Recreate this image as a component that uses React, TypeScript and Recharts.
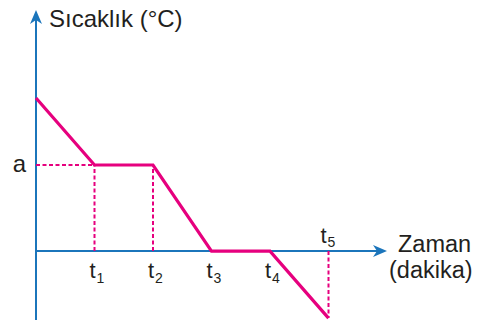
import { LineChart, Line, XAxis, YAxis, ReferenceLine, ReferenceDot } from 'recharts'

const times = [0, 1, 2, 3, 4, 5]
const temps = [80, 45, 45, 0, 0, -35]
const plateau = 45
const tickSubs = ['1', '2', '3', '4', '5']
const yTitle = 'Sıcaklık (°C)'
const xTitle = ['Zaman', '(dakika)']

const PINK = '#e6007e'
const BLUE = '#1b75bb'
const INK = '#231f20'
const FONT = '"Liberation Sans", Arial, sans-serif'
const DASH = '4 2.5'

const data = times.map((t, i) => ({ t, temp: temps[i] }))

function ArrowAxis(props: any) {
  const { x1, y1, x2, y2 } = props
  const dx = x2 - x1
  const dy = y2 - y1
  const len = Math.sqrt(dx * dx + dy * dy) || 1
  const ux = dx / len
  const uy = dy / len
  const px = -uy
  const py = ux
  const head = 14
  const half = 6
  const bx = x2 - ux * head
  const by = y2 - uy * head
  const nx = x2 - ux * (head - 4)
  const ny = y2 - uy * (head - 4)
  const pts = [
    [x2, y2],
    [bx + px * half, by + py * half],
    [nx, ny],
    [bx - px * half, by - py * half],
  ]
    .map((p) => p.join(','))
    .join(' ')
  return (
    <g>
      <line x1={x1} y1={y1} x2={nx} y2={ny} stroke={BLUE} strokeWidth={2} />
      <polygon points={pts} fill={BLUE} />
    </g>
  )
}

function TLabel({ cx, cy, sub, above }: { cx: number; cy: number; sub: string; above?: boolean }) {
  const tx = above ? cx - 8 : cx - 5
  const ty = above ? cy - 8.5 : cy + 27
  return (
    <g fontFamily={FONT} fill={INK}>
      <text x={tx} y={ty} fontSize={22}>t</text>
      <text x={tx + 7} y={ty + 4.5} fontSize={14}>{sub}</text>
    </g>
  )
}

export default function App() {
  const last = times[times.length - 1]
  return (
    <div style={{ position: 'absolute', left: 0, top: 0, background: '#fff' }}>
      <LineChart width={491} height={322} data={data} margin={{ top: 10, right: 104, bottom: 2, left: 36 }}>
        <XAxis type="number" dataKey="t" domain={[0, 6]} hide />
        <YAxis type="number" domain={[-36, 126]} hide />

        <ReferenceLine segment={[{ x: 0, y: -36 }, { x: 0, y: 126 }]} shape={ArrowAxis} />
        <ReferenceLine segment={[{ x: 0, y: 0 }, { x: 6, y: 0 }]} shape={ArrowAxis} />

        <ReferenceLine
          segment={[{ x: 0, y: plateau }, { x: 1, y: plateau }]}
          stroke={PINK}
          strokeWidth={2}
          strokeDasharray={DASH}
        />
        {[1, 2].map((t) => (
          <ReferenceLine
            key={t}
            segment={[{ x: t, y: 0 }, { x: t, y: plateau }]}
            stroke={PINK}
            strokeWidth={2}
            strokeDasharray={DASH}
          />
        ))}
        <ReferenceLine
          segment={[{ x: last, y: 0 }, { x: last, y: temps[temps.length - 1] }]}
          stroke={PINK}
          strokeWidth={2}
          strokeDasharray={DASH}
        />

        <Line
          type="linear"
          dataKey="temp"
          stroke={PINK}
          strokeWidth={3.2}
          dot={false}
          activeDot={false}
          isAnimationActive={false}
        />

        {tickSubs.map((s, i) => (
          <ReferenceDot
            key={s}
            x={i + 1}
            y={0}
            r={0}
            shape={(p: any) => <TLabel cx={p.cx} cy={p.cy} sub={s} above={i === tickSubs.length - 1} />}
          />
        ))}

        <ReferenceDot
          x={0}
          y={plateau}
          r={0}
          shape={(p: any) => (
            <text x={p.cx - 10} y={p.cy + 6.5} textAnchor="end" fontSize={24} fontFamily={FONT} fill={INK}>
              a
            </text>
          )}
        />
        <ReferenceDot
          x={0}
          y={126}
          r={0}
          shape={(p: any) => (
            <text x={p.cx + 13} y={p.cy + 17} fontSize={24} fontFamily={FONT} fill={INK}>
              {yTitle}
            </text>
          )}
        />
        <ReferenceDot
          x={6}
          y={0}
          r={0}
          shape={(p: any) => (
            <g fontFamily={FONT} fill={INK} fontSize={23.5}>
              <text x={p.cx + 11} y={p.cy + 0.5}>{xTitle[0]}</text>
              <text x={p.cx + 2} y={p.cy + 27}>{xTitle[1]}</text>
            </g>
          )}
        />
      </LineChart>
    </div>
  )
}
